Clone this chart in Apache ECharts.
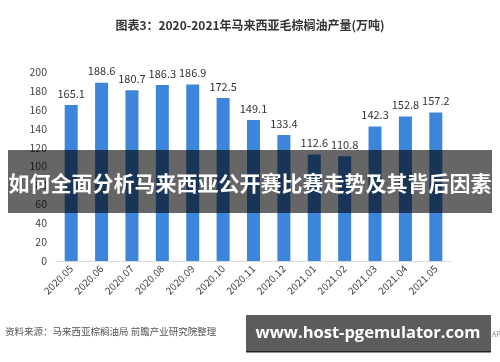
<!DOCTYPE html>
<html><head><meta charset="utf-8">
<script src="https://cdn.jsdelivr.net/npm/echarts@6/dist/echarts.min.js"></script>
<style>html,body{margin:0;padding:0;background:#fff}#c{width:500px;height:362px}</style>
</head><body><div id="c"></div>
<script>
const categories = ['2020.05','2020.06','2020.07','2020.08','2020.09','2020.10','2020.11','2020.12','2021.01','2021.02','2021.03','2021.04','2021.05'];
const production = [165.1,188.6,180.7,186.3,186.9,172.5,149.1,133.4,112.6,110.8,142.3,152.8,157.2];
const yTicks = {min:0, max:200, interval:20};
const chartTitle = '图表3：2020-2021年马来西亚毛棕榈油产量(万吨)';
const sourceText = '资料来源：马来西亚棕榈油局 前瞻产业研究院整理';
const bannerText = '如何全面分析马来西亚公开赛比赛走势及其背后因素';
const siteText = 'www.host-pgemulator.com';

const font = '"Noto Sans CJK SC","Microsoft YaHei",sans-serif';
const chart = echarts.init(document.getElementById('c'), null, {renderer:'canvas'});
chart.setOption({
  animation:false,
  backgroundColor:'#fff',
  title:{text:chartTitle,left:'center',top:14,textStyle:{fontSize:12,fontWeight:'bold',color:'#333',fontFamily:font}},
  grid:{left:56,right:49,top:72,bottom:101,containLabel:false},
  xAxis:{type:'category',data:categories,
    axisLine:{lineStyle:{color:'#d9d9d9'}},axisTick:{show:false},
    axisLabel:{rotate:45,fontSize:10,color:'#444',margin:6,fontFamily:font,interval:0}},
  yAxis:{type:'value',min:yTicks.min,max:yTicks.max,interval:yTicks.interval,
    axisLine:{show:false},axisTick:{show:false},splitLine:{show:false},
    axisLabel:{fontSize:10.5,color:'#444',margin:9,fontFamily:font}},
  series:[{type:'bar',data:production,barWidth:13,
    itemStyle:{color:'#3d85db'},
    label:{show:true,position:'top',fontSize:11,color:'#333',distance:6,fontFamily:font}}],
  graphic:[
    {type:'text',left:5,top:327,z:10,style:{text:sourceText,fontSize:9.5,fill:'#555',fontFamily:font}},
    {type:'rect',shape:{x:8,y:150,width:484,height:63},z:20,style:{fill:'rgba(0,0,0,0.6)'}},
    {type:'text',z:21,x:250,y:183,style:{text:bannerText,fontSize:21,fontWeight:'bold',fill:'#fff',align:'center',verticalAlign:'middle',fontFamily:font}},
    {type:'text',z:10,x:492,y:334,style:{text:'APP',fontSize:7,fill:'#888',verticalAlign:'middle',fontFamily:font}},
    {type:'rect',shape:{x:246,y:315,width:245,height:36},z:20,style:{fill:'#5c5c5c'}},
    {type:'rect',shape:{x:246,y:351,width:245,height:1.5},z:20,style:{fill:'#222'}},
    {type:'text',z:21,x:368,y:333,style:{text:siteText,fontSize:16.5,fontWeight:'bold',fill:'#fff',align:'center',verticalAlign:'middle',fontFamily:'"Open Sans",sans-serif'}}
  ]
});
</script></body></html>
